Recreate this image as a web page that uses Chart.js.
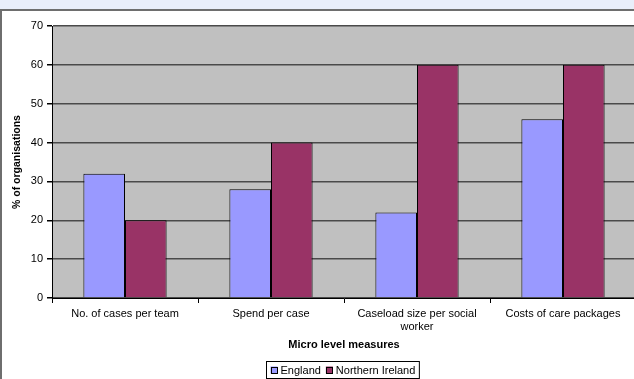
<!DOCTYPE html>
<html>
<head>
<meta charset="utf-8">
<script src="https://cdn.jsdelivr.net/npm/chart.js@4.4.1/dist/chart.umd.min.js"></script>
<style>
  html, body { margin: 0; padding: 0; background: #ffffff; overflow: hidden; }
  #wrap { position: relative; width: 640px; height: 379px; }
  canvas { display: block; }
</style>
</head>
<body>
<div id="wrap"><canvas id="c" width="640" height="379"></canvas></div>
<script>
// Micro level measures used by organisations (% of organisations)
const categories = [
  'No. of cases per team',
  'Spend per case',
  ['Caseload size per social', 'worker'],
  'Costs of care packages'
];
const englandValues = [32, 28, 22, 46];
const northernIrelandValues = [20, 40, 60, 60];
const seriesNames = ['England', 'Northern Ireland'];
const yTicks = [0, 10, 20, 30, 40, 50, 60, 70];

const FONT = "'Liberation Sans', Arial, sans-serif";

// Page frame, plot background and boxed legend
const framePlugin = {
  id: 'frame',
  beforeDraw(chart) {
    const ctx = chart.ctx;
    const a = chart.chartArea;
    ctx.save();
    ctx.fillStyle = '#ffffff';
    ctx.fillRect(0, 0, chart.width, chart.height);
    ctx.fillStyle = '#e9eefa';
    ctx.fillRect(0, 0, chart.width, 9);
    ctx.fillStyle = '#6e6e6e';
    ctx.fillRect(0, 9, chart.width, 2);
    ctx.fillRect(0, 9, 2, chart.height);
    ctx.fillStyle = '#c0c0c0';
    ctx.fillRect(a.left, a.top, a.right - a.left, a.bottom - a.top);
    ctx.restore();
  },
  afterDraw(chart) {
    const ctx = chart.ctx;
    const sets = chart.data.datasets;
    ctx.save();
    ctx.font = '11px ' + FONT;
    ctx.textBaseline = 'middle';
    const box = 7, gap = 3, itemGap = 5, padX = 4;
    const widths = sets.map(d => box + gap + ctx.measureText(d.label).width);
    const total = widths.reduce((s, w) => s + w, 0) + itemGap * (sets.length - 1) + padX * 2;
    const cx = 342;
    const x0 = Math.round(cx - total / 2) + 0.5;
    const y0 = 361.5, h = 17;
    ctx.strokeStyle = '#000';
    ctx.lineWidth = 1;
    ctx.strokeRect(x0, y0, total, h);
    let x = x0 + padX;
    const ym = y0 + h / 2;
    sets.forEach((d, i) => {
      ctx.fillStyle = d.backgroundColor;
      ctx.fillRect(x, ym - box / 2, box, box);
      ctx.strokeRect(Math.round(x) + 0.5, Math.round(ym - box / 2) + 0.5, box - 1, box - 1);
      ctx.fillStyle = '#000';
      ctx.fillText(d.label, x + box + gap, ym + 0.5);
      x += widths[i] + itemGap;
    });
    ctx.restore();
  }
};

new Chart(document.getElementById('c'), {
  type: 'bar',
  data: {
    labels: categories,
    datasets: [
      {
        label: seriesNames[0],
        data: englandValues,
        backgroundColor: '#9999ff',
        borderColor: '#000000',
        borderWidth: 1
      },
      {
        label: seriesNames[1],
        data: northernIrelandValues,
        backgroundColor: '#993366',
        borderColor: '#000000',
        borderWidth: 1
      }
    ]
  },
  options: {
    responsive: false,
    animation: false,
    devicePixelRatio: 1,
    layout: { padding: { top: 26, left: 0, right: 4, bottom: 21 } },
    datasets: { bar: { categoryPercentage: 0.57, barPercentage: 1.0 } },
    plugins: {
      legend: { display: false },
      tooltip: { enabled: false }
    },
    scales: {
      x: {
        offset: true,
        grid: {
          offset: true,
          drawOnChartArea: false,
          drawTicks: true,
          tickLength: 5,
          color: '#000000'
        },
        border: { display: true, color: '#000000', width: 1 },
        ticks: {
          color: '#000000',
          font: { family: FONT, size: 11 },
          padding: 4,
          maxRotation: 0,
          autoSkip: false
        },
        title: {
          display: true,
          text: 'Micro level measures',
          color: '#000000',
          font: { family: FONT, size: 11, weight: 'bold' },
          padding: { top: 4, bottom: 6 }
        },
        afterFit(scale) { scale.height = 60; }
      },
      y: {
        min: 0,
        max: 70,
        afterBuildTicks(scale) { scale.ticks = yTicks.map(v => ({ value: v })); },
        grid: {
          color: '#4a4a4a',
          lineWidth: 1.5,
          drawTicks: true,
          tickLength: 5,
          tickColor: '#000000'
        },
        border: { display: true, color: '#000000', width: 1 },
        ticks: {
          color: '#000000',
          font: { family: FONT, size: 11 },
          padding: 4
        },
        title: {
          display: true,
          text: '% of organisations',
          color: '#000000',
          font: { family: FONT, size: 10.5, weight: 'bold' },
          padding: { top: 11, bottom: 0 }
        },
        afterFit(scale) { scale.width = 52; }
      }
    }
  },
  plugins: [framePlugin]
});
</script>
</body>
</html>
